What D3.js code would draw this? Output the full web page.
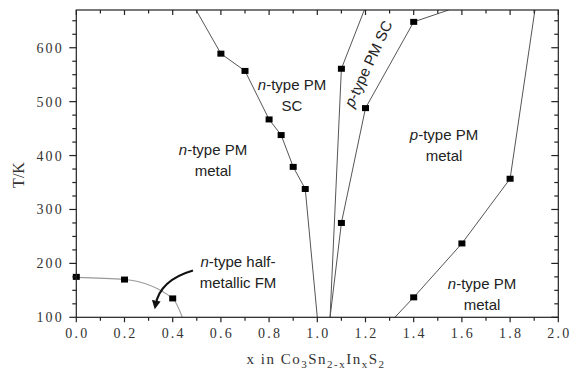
<!DOCTYPE html>
<html>
<head>
<meta charset="utf-8">
<script src="https://cdn.jsdelivr.net/npm/d3@7"></script>
<style>
  body { margin: 0; background: #fff; }
  .tick-label { font-family: "Liberation Serif", "Times New Roman", serif; font-size: 14px; letter-spacing: 2.2px; fill: #333; }
  .region { font-family: "Liberation Sans", Arial, sans-serif; font-size: 15px; fill: #222; }
</style>
</head>
<body>
<svg id="chart" width="570" height="374"></svg>
<script>
// phase boundaries, x in Co3Sn2-xInxS2 vs T (K); ends without markers reach the frame
const fmCurve   = [[0.0, 174], [0.2, 170], [0.4, 135], [0.44, 100]];
const fmMarks   = [[0.0, 175], [0.2, 170], [0.4, 135]];
const nMetalSC  = [[0.497, 670], [0.6, 589], [0.7, 557], [0.8, 467], [0.85, 438], [0.9, 379], [0.95, 338], [1.0, 100]];
const nMetalSCMarks = [[0.6, 589], [0.7, 557], [0.8, 467], [0.85, 438], [0.9, 379], [0.95, 338]];
const nSCpSC    = [[1.053, 100], [1.1, 561], [1.195, 670]];
const nSCpSCMarks = [[1.1, 561]];
const pSCMetal  = [[1.053, 100], [1.1, 275], [1.2, 488], [1.4, 648], [1.545, 670]];
const pSCMetalMarks = [[1.1, 275], [1.2, 488], [1.4, 648]];
const pnMetal   = [[1.322, 100], [1.4, 137], [1.6, 237], [1.8, 357], [1.903, 670]];
const pnMetalMarks = [[1.4, 137], [1.6, 237], [1.8, 357]];

const xTicks = [0.0, 0.2, 0.4, 0.6, 0.8, 1.0, 1.2, 1.4, 1.6, 1.8, 2.0];
const yTicks = [100, 200, 300, 400, 500, 600];

const svg = d3.select("#chart");
const m = {left: 76.3, right: 558.3, top: 10, bottom: 317.3};

const x = d3.scaleLinear().domain([0, 2]).range([m.left, m.right]);
const y = d3.scaleLinear().domain([100, 670]).range([m.bottom, m.top]);

const clip = svg.append("clipPath").attr("id", "plot-clip")
  .append("rect").attr("x", m.left).attr("y", m.top)
  .attr("width", m.right - m.left).attr("height", m.bottom - m.top);

const plot = svg.append("g").attr("clip-path", "url(#plot-clip)");

const line = d3.line().x(d => x(d[0])).y(d => y(d[1]));

plot.append("path").datum(fmCurve)
  .attr("d", line.curve(d3.curveMonotoneX)(fmCurve))
  .attr("fill", "none").attr("stroke", "#999").attr("stroke-width", 1.1);
line.curve(d3.curveLinear);

[nMetalSC, nSCpSC, pSCMetal, pnMetal].forEach(s => {
  plot.append("path").attr("d", line(s))
    .attr("fill", "none").attr("stroke", "#555").attr("stroke-width", 1);
});

const marks = [].concat(fmMarks, nMetalSCMarks, nSCpSCMarks, pSCMetalMarks, pnMetalMarks);
svg.append("g").selectAll("rect").data(marks).join("rect")
  .attr("x", d => x(d[0]) - 3.5).attr("y", d => y(d[1]) - 3)
  .attr("width", 7).attr("height", 6).attr("fill", "#000");

// frame and ticks
const axisG = svg.append("g").attr("stroke", "#222").attr("stroke-width", 1.2);
axisG.append("rect").attr("x", m.left).attr("y", m.top)
  .attr("width", m.right - m.left).attr("height", m.bottom - m.top).attr("fill", "none");

const xMinor = d3.range(0, 2.001, 0.1);
xMinor.forEach((v, i) => {
  const major = i % 2 === 0;
  const len = major ? 5 : 3.5;
  axisG.append("line").attr("x1", x(v)).attr("x2", x(v))
    .attr("y1", m.bottom).attr("y2", m.bottom + len);
  axisG.append("line").attr("x1", x(v)).attr("x2", x(v))
    .attr("y1", m.top).attr("y2", m.top + len);
});
const yMinor = d3.range(100, 670, 25);
yMinor.forEach(v => {
  const major = v % 100 === 0;
  const len = major ? 7 : 4;
  axisG.append("line").attr("x1", m.left - len).attr("x2", m.left)
    .attr("y1", y(v)).attr("y2", y(v));
  axisG.append("line").attr("x1", m.right - len).attr("x2", m.right)
    .attr("y1", y(v)).attr("y2", y(v));
});

svg.append("g").selectAll("text").data(xTicks).join("text")
  .attr("class", "tick-label")
  .attr("x", d => x(d) + 1).attr("y", 338)
  .attr("text-anchor", "middle")
  .text(d => d.toFixed(1));

svg.append("g").selectAll("text").data(yTicks).join("text")
  .attr("class", "tick-label")
  .attr("x", 64).attr("y", d => y(d) + 5)
  .attr("text-anchor", "end")
  .text(d => d);

// axis titles
svg.append("text")
  .attr("transform", "translate(24,175) rotate(-90)")
  .attr("text-anchor", "middle")
  .style("font-family", "Liberation Serif, serif").style("font-size", "16px").attr("fill", "#333")
  .text("T/K");

const xt = svg.append("text")
  .attr("x", 316).attr("y", 364).attr("text-anchor", "middle")
  .style("font-family", "Liberation Serif, serif").style("font-size", "15px")
  .style("letter-spacing", "1.5px").attr("fill", "#333");
[["x in Co", 0], ["3", 1], ["Sn", 0], ["2-x", 1], ["In", 0], ["x", 1], ["S", 0], ["2", 1]]
  .forEach(([t, sub], i, arr) => {
    const prev = i > 0 ? arr[i - 1][1] : 0;
    xt.append("tspan")
      .attr("dy", sub === prev ? 0 : (sub ? 4 : -4))
      .style("font-size", sub ? "11px" : "15px")
      .text(t);
  });

// region labels
function region(lines, cx, cy, rot) {
  const t = svg.append("text").attr("class", "region").attr("text-anchor", "middle")
    .attr("transform", `translate(${cx},${cy})` + (rot ? ` rotate(${rot})` : ""));
  lines.forEach((ln, i) => {
    const ts = t.append("tspan").attr("x", 0).attr("dy", i === 0 ? 0 : 20.5);
    if (ln[0]) ts.append("tspan").style("font-style", "italic").text(ln[0]);
    ts.append("tspan").text(ln[1]);
  });
}
region([["n", "-type PM"], ["", "SC"]], 292, 90);
region([["n", "-type PM"], ["", "metal"]], 213, 155);
region([["p", "-type PM SC"]], 373, 66, -65);
region([["p", "-type PM"], ["", "metal"]], 444, 140);
region([["n", "-type PM"], ["", "metal"]], 482, 289);
region([["n", "-type half-"], ["", "metallic FM"]], 238, 267);

// arrow to FM region
svg.append("defs").append("marker").attr("id", "head")
  .attr("viewBox", "0 0 10 10").attr("refX", 5).attr("refY", 5)
  .attr("markerWidth", 4).attr("markerHeight", 4).attr("orient", "auto")
  .append("path").attr("d", "M0,0 L10,5 L0,10 Z").attr("fill", "#111");
svg.append("path")
  .attr("d", "M193,270.5 Q160,280 155.5,305")
  .attr("fill", "none").attr("stroke", "#111").attr("stroke-width", 2.2)
  .attr("marker-end", "url(#head)");
</script>
</body>
</html>
